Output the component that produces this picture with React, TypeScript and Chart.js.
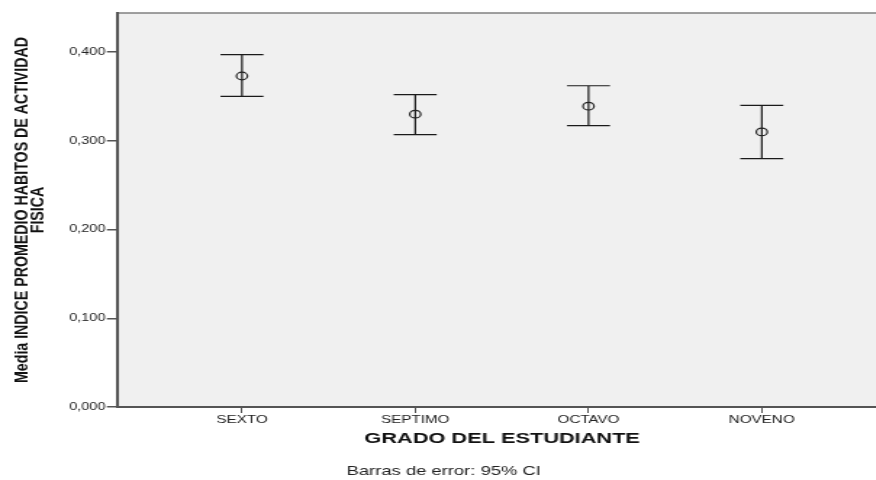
import React, { useEffect, useRef } from "react";
import { Chart, registerables } from "chart.js";

Chart.register(...registerables);

// Grades on the horizontal axis
const CATEGORIES = ["SEXTO", "SEPTIMO", "OCTAVO", "NOVENO"];
// Mean of the physical-activity habits index per grade
const MEANS = [0.373, 0.33, 0.339, 0.31];
// 95% confidence interval bounds
const LOWER = [0.35, 0.307, 0.317, 0.28];
const UPPER = [0.397, 0.352, 0.362, 0.34];
// Value ticks on the vertical axis
const Y_TICKS = [0, 0.1, 0.2, 0.3, 0.4];

const Y_TITLE = ["Media INDICE PROMEDIO HABITOS DE ACTIVIDAD", "FISICA"];
const X_TITLE = "GRADO DEL ESTUDIANTE";
const FOOTNOTE = "Barras de error: 95% CI";

// Axis ranges
const Y_MAX = 0.444;
const X_MIN = -0.721;
const X_MAX = 3.725;

// The canvas is drawn narrow and stretched horizontally by CSS
const STRETCH = 1.45;
const CANVAS_W = 612;
const CANVAS_H = 480;

const FONT = "'Liberation Sans', Arial, sans-serif";
const CAP_HALF = 14.8;

const plotPlugin = {
  id: "ciPlot",
  beforeDraw(chart: any) {
    const { ctx, chartArea } = chart;
    ctx.save();
    ctx.fillStyle = "#f0f0f0";
    ctx.fillRect(chartArea.left, chartArea.top, chartArea.right - chartArea.left, chartArea.bottom - chartArea.top);
    ctx.strokeStyle = "#808080";
    ctx.lineWidth = 1.5;
    ctx.beginPath();
    ctx.moveTo(chartArea.left, chartArea.top);
    ctx.lineTo(chartArea.right, chartArea.top);
    ctx.stroke();
    ctx.restore();
  },
  beforeDatasetsDraw(chart: any) {
    const { ctx } = chart;
    const xs = chart.scales.x;
    const ys = chart.scales.y;
    ctx.save();
    ctx.strokeStyle = "#1a1a1a";
    ctx.lineWidth = 1.2;
    CATEGORIES.forEach((_, i) => {
      const x = xs.getPixelForValue(i);
      const yU = ys.getPixelForValue(UPPER[i]);
      const yL = ys.getPixelForValue(LOWER[i]);
      ctx.beginPath();
      ctx.moveTo(x, yU);
      ctx.lineTo(x, yL);
      ctx.moveTo(x - CAP_HALF, yU);
      ctx.lineTo(x + CAP_HALF, yU);
      ctx.moveTo(x - CAP_HALF, yL);
      ctx.lineTo(x + CAP_HALF, yL);
      ctx.stroke();
    });
    ctx.restore();
  },
  afterDraw(chart: any) {
    const { ctx, chartArea } = chart;
    const midY = (chartArea.top + chartArea.bottom) / 2;

    // Rotated, two-line title of the value axis
    ctx.save();
    ctx.fillStyle = "#111";
    ctx.font = `bold 12.2px ${FONT}`;
    ctx.textAlign = "center";
    ctx.textBaseline = "alphabetic";
    const baselines = [18.8, 29.6];
    const along = 346 / ctx.measureText(Y_TITLE[0]).width;
    Y_TITLE.forEach((line, k) => {
      ctx.save();
      ctx.translate(baselines[k], midY);
      ctx.rotate(-Math.PI / 2);
      ctx.scale(along, 1);
      ctx.fillText(line, 0, 0);
      ctx.restore();
    });
    ctx.restore();

    // Footnote below the axis title
    ctx.save();
    ctx.fillStyle = "#222";
    ctx.font = `12.7px ${FONT}`;
    ctx.textAlign = "center";
    ctx.textBaseline = "alphabetic";
    ctx.fillText(FOOTNOTE, chart.width / 2, 474.5);
    ctx.restore();
  },
};

export default function App() {
  const canvasRef = useRef<HTMLCanvasElement | null>(null);

  useEffect(() => {
    const canvas = canvasRef.current;
    if (!canvas) return;
    const chart = new Chart(canvas, {
      type: "scatter",
      data: {
        datasets: [
          {
            data: CATEGORIES.map((_, i) => ({ x: i, y: MEANS[i] })),
            pointStyle: "circle",
            pointRadius: 3.8,
            pointBorderColor: "#222",
            pointBorderWidth: 1.2,
            pointBackgroundColor: "rgba(0,0,0,0)",
            showLine: false,
          } as any,
        ],
      },
      options: {
        animation: false,
        responsive: false,
        devicePixelRatio: 1,
        events: [],
        layout: { autoPadding: false, padding: { top: 13, right: 0, bottom: 0, left: 0 } },
        plugins: {
          legend: { display: false },
          tooltip: { enabled: false },
          title: { display: false },
        },
        scales: {
          x: {
            type: "linear",
            min: X_MIN,
            max: X_MAX,
            afterBuildTicks: (axis: any) => {
              axis.ticks = CATEGORIES.map((_, i) => ({ value: i }));
            },
            afterFit: (s: any) => {
              s.height = 73;
            },
            ticks: {
              callback: (v: any) => CATEGORIES[Math.round(Number(v))],
              font: { family: FONT, size: 10.5 },
              color: "#222",
              padding: 1,
              maxRotation: 0,
              autoSkip: false,
            },
            grid: { drawOnChartArea: false, drawTicks: true, tickLength: 6, color: "#555", lineWidth: 1 },
            border: { display: true, color: "#555", width: 2 },
            title: {
              display: true,
              text: X_TITLE,
              font: { family: FONT, size: 15, weight: "bold" },
              color: "#111",
              padding: { top: 0, bottom: 32 },
            },
          },
          y: {
            min: 0,
            max: Y_MAX,
            afterBuildTicks: (axis: any) => {
              axis.ticks = Y_TICKS.map((v) => ({ value: v }));
            },
            afterFit: (s: any) => {
              s.width = 80.7;
            },
            ticks: {
              callback: (v: any) => Number(v).toFixed(3).replace(".", ","),
              font: { family: FONT, size: 10 },
              color: "#222",
              padding: 1,
            },
            grid: { drawOnChartArea: false, drawTicks: true, tickLength: 7, color: "#555", lineWidth: 1.5 },
            border: { display: true, color: "#555", width: 2 },
          },
        },
      } as any,
      plugins: [plotPlugin],
    });
    return () => chart.destroy();
  }, []);

  return (
    <div
      style={{
        position: "absolute",
        left: 0,
        top: 0,
        width: 876,
        height: 480,
        overflow: "hidden",
        background: "#fff",
      }}
    >
      <div
        style={{
          width: CANVAS_W,
          height: CANVAS_H,
          transform: `scale(${STRETCH}, 1)`,
          transformOrigin: "0 0",
        }}
      >
        <canvas ref={canvasRef} width={CANVAS_W} height={CANVAS_H} style={{ display: "block" }} />
      </div>
    </div>
  );
}
